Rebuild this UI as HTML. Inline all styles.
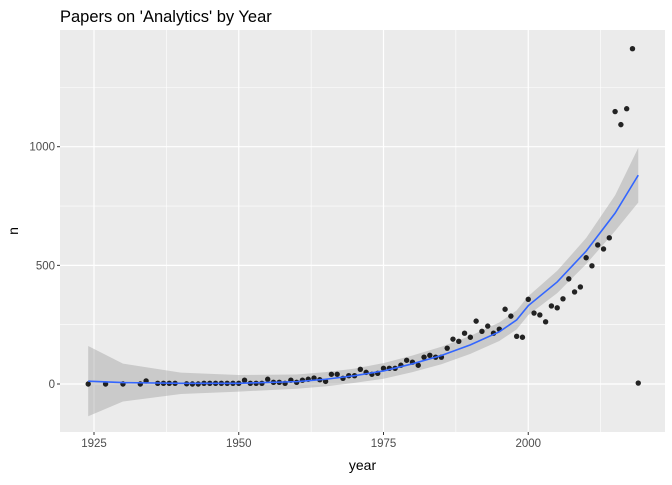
<!DOCTYPE html>
<html><head><meta charset="utf-8"><style>
body{margin:0;background:#fff;font-family:"Liberation Sans",sans-serif}
svg text{font-family:"Liberation Sans",sans-serif}
</style></head><body>
<svg id="c" width="672" height="480" xmlns="http://www.w3.org/2000/svg"></svg>
<script>
const years=[1924,1927,1930,1933,1934,1936,1937,1938,1939,1941,1942,1943,1944,1945,1946,1947,1948,1949,1950,1951,1952,1953,1954,1955,1956,1957,1958,1959,1960,1961,1962,1963,1964,1965,1966,1967,1968,1969,1970,1971,1972,1973,1974,1975,1976,1977,1978,1979,1980,1981,1982,1983,1984,1985,1986,1987,1988,1989,1990,1991,1992,1993,1994,1995,1996,1997,1998,1999,2000,2001,2002,2003,2004,2005,2006,2007,2008,2009,2010,2011,2012,2013,2014,2015,2016,2017,2018,2019];
const counts=[0,0,0,0,13,3,3,3,3,1,0,0,3,3,3,3,3,3,3,16,3,3,3,20,7,7,3,16,7,16,20,25,18,11,41,41,24,35,35,62,49,41,45,66,66,66,79,100,92,79,113,121,113,113,151,189,180,214,197,265,222,244,214,231,315,286,201,197,357,299,291,262,329,321,359,443,388,409,532,498,586,569,616,1148,1093,1160,1413,4];
const fitYears=[1924,1930,1940,1950,1960,1965,1970,1975,1980,1985,1990,1995,1998,2000,2005,2010,2015,2019];
const fitVals=[12,6,3,3,10,20,35,55,85,120,165,220,270,330,430,560,720,880];
const fitSE=[148,80,45,35,30,30,30,33,35,37,38,39,40,40,47,55,75,115];
const xTicks=[1925,1950,1975,2000];
const yTicks=[0,500,1000];
const NS="http://www.w3.org/2000/svg";
const svg=document.getElementById('c');
const L=60,R=665,T=30,B=432;
const X=y=>94+(y-1925)*5.79;
const Y=n=>384-n*0.2373;
function mk(t,a,p){const e=document.createElementNS(NS,t);for(const k in a)e.setAttribute(k,a[k]);(p||svg).appendChild(e);return e;}
const panel=mk('rect',{x:L,y:T,width:R-L,height:B-T,fill:'#ebebeb'});


[1937.5,1962.5,1987.5,2012.5].forEach(v=>mk('line',{x1:X(v),x2:X(v),y1:T,y2:B,stroke:'#fff','stroke-width':0.6}));
[250,750,1250].forEach(v=>mk('line',{x1:L,x2:R,y1:Y(v),y2:Y(v),stroke:'#fff','stroke-width':0.6}));
xTicks.forEach(v=>{
 const g=mk('line',{x1:X(v),x2:X(v),y1:T,y2:B,stroke:'#fff','stroke-width':1.2});
 
 
 mk('line',{x1:X(v),x2:X(v),y1:B,y2:B+3,stroke:'#333','stroke-width':1});
 const t=mk('text',{x:X(v),y:B+15,'text-anchor':'middle','font-size':11.5,fill:'#4d4d4d'});t.textContent=v;
 
 
});
yTicks.forEach(v=>{
 const g=mk('line',{x1:L,x2:R,y1:Y(v),y2:Y(v),stroke:'#fff','stroke-width':1.2});
 
 
 mk('line',{x1:L-3,x2:L,y1:Y(v),y2:Y(v),stroke:'#333','stroke-width':1});
 const t=mk('text',{x:L-5,y:Y(v)+4,'text-anchor':'end','font-size':11.5,fill:'#4d4d4d'});t.textContent=v;
 
 
});
let up=fitYears.map((y,i)=>X(y)+','+Y(fitVals[i]+fitSE[i]));
let lo=fitYears.map((y,i)=>X(y)+','+Y(fitVals[i]-fitSE[i])).reverse();
const band=mk('polygon',{points:up.concat(lo).join(' '),fill:'#999','fill-opacity':0.4});


years.forEach((y,i)=>{
 const c=mk('circle',{cx:X(y),cy:Y(counts[i]),r:2.7,fill:'#000','fill-opacity':0.85});
 
 
});
const line=mk('polyline',{points:fitYears.map((y,i)=>X(y)+','+Y(fitVals[i])).join(' '),fill:'none',stroke:'#3366ff','stroke-width':1.6});


const ti=mk('text',{x:60,y:22,'font-size':16.5,fill:'#000'});ti.textContent="Papers on 'Analytics' by Year";


const xl=mk('text',{x:(L+R)/2,y:470,'text-anchor':'middle','font-size':14,fill:'#000'});xl.textContent='year';


const yl=mk('text',{x:18,y:(T+B)/2,'text-anchor':'middle','font-size':14,fill:'#000',transform:'rotate(-90 18 '+((T+B)/2)+')'});yl.textContent='n';


</script>
</body></html>
